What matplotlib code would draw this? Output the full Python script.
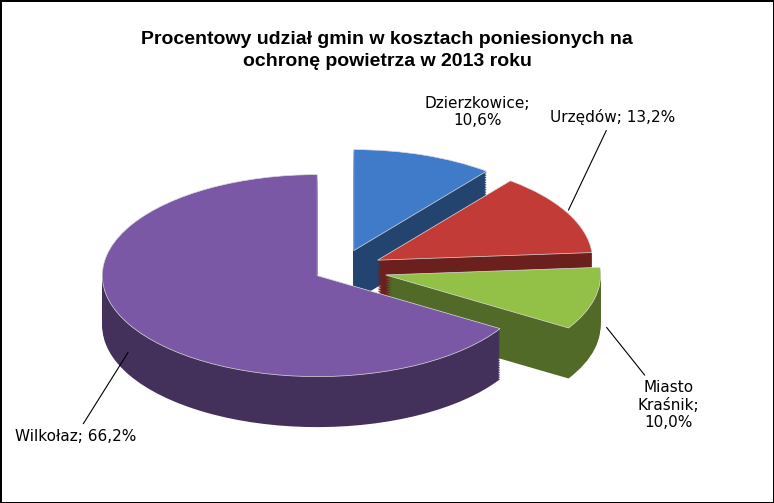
import numpy as np
import matplotlib.pyplot as plt
import matplotlib.colors as mc

names = ["Dzierzkowice", "Urzędów", "Miasto Kraśnik", "Wilkołaz"]
values = [10.6, 13.2, 10.0, 66.2]
label_texts = ["Dzierzkowice;\n10,6%", "Urzędów; 13,2%", "Miasto\nKraśnik;\n10,0%", "Wilkołaz; 66,2%"]
colors = ["#3F7BC8", "#C23B36", "#93C047", "#7A58A6"]
explode = [0.2, 0.2, 0.22, 0.12]

fig = plt.figure(figsize=(7.74, 5.03), dpi=100)
fig.patch.set_edgecolor("black")
fig.patch.set_linewidth(2)

fig.text(0.5, 0.90, "Procentowy udział gmin w kosztach poniesionych na\nochronę powietrza w 2013 roku",
         ha="center", va="center", fontsize=14, fontweight="bold", family="Liberation Sans",
         linespacing=1.4)

ax = fig.add_axes([0.0, 0.0, 1.0, 1.0])
ax.axis("off")

dark = [tuple(c * 0.55 for c in mc.to_rgb(col)) for col in colors]
depth = 0.5
for d in np.linspace(depth, 0.01, 30):
    ax.pie(values, colors=dark, explode=explode, startangle=90, counterclock=False,
           center=(0, -d), wedgeprops=dict(linewidth=0))
wedges, _ = ax.pie(values, colors=colors, explode=explode, startangle=90, counterclock=False,
                   center=(0, 0), wedgeprops=dict(linewidth=0.5, edgecolor="#dddddd"))

ax.set_aspect(0.47)
ax.set_xlim(-1.58, 2.02)
ax.set_ylim(-2.31, 2.67)

text_pos = [(0.64, 1.56), (1.27, 1.51), (1.53, -1.34), (-1.23, -1.65)]
anchor_r = [None, 1.0, 1.05, 1.0]
for w, lab, tp, ar in zip(wedges, label_texts, text_pos, anchor_r):
    ang = np.deg2rad((w.theta1 + w.theta2) / 2)
    cx, cy = w.center
    if ar is None:
        ax.text(tp[0], tp[1], lab, ha="center", va="center", fontsize=11)
        continue
    px = cx + np.cos(ang) * ar
    py = cy + np.sin(ang) * ar - (depth * 0.5 if np.sin(ang) < 0 else 0)
    ax.annotate(lab, xy=(px, py), xytext=tp, ha="center", va="center", fontsize=11,
                arrowprops=dict(arrowstyle="-", color="black", lw=0.8))

fig.savefig("out.png", dpi=100)
